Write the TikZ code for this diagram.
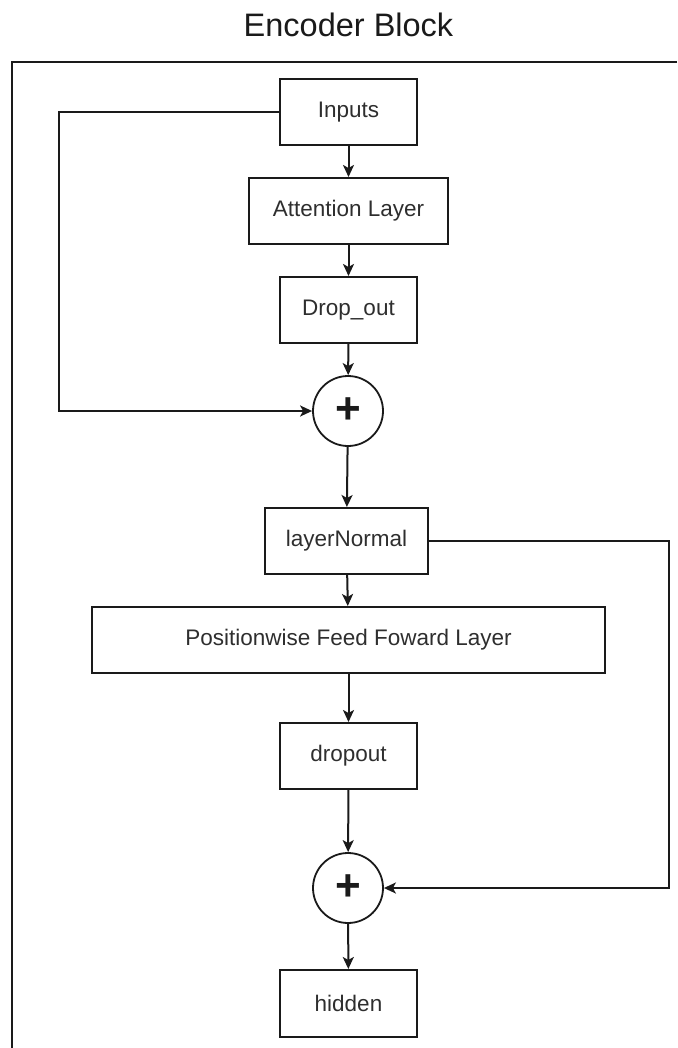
\documentclass[tikz,border=0pt]{standalone}
\usepackage{fontspec}
\setmainfont{Liberation Sans}
\usetikzlibrary{arrows.meta}
\definecolor{ink}{HTML}{1A1A1A}
\definecolor{txt}{HTML}{2E2E2E}
\begin{document}
\begin{tikzpicture}[x=1pt,y=-1pt,
  line width=2pt, draw=ink,
  layer/.style={draw=ink, line width=2pt, rectangle, inner sep=0pt,
    minimum height=66pt, text=txt, font=\fontsize{22.5}{27}\selectfont},
  adder/.style={draw=ink, line width=1.8pt, circle, inner sep=0pt,
    minimum size=70pt, text=ink, font=\fontsize{44}{46}\selectfont\bfseries},
  flow/.style={draw=ink, line width=2pt,
    -{Stealth[length=12pt,width=11pt,inset=3pt]}},
  skip/.style={draw=ink, line width=2pt}]
\useasboundingbox (0,0) rectangle (677,1048);
% outer frame (top and left edges)
\draw[line width=2.2pt, draw=ink] (677,62) -- (12,62) -- (12,1048);
% title
\node[text=ink, font=\fontsize{32.5}{36}\selectfont, anchor=base] (title) at (348.5,37) {Encoder Block};
% blocks
\node[layer, minimum width=137pt] (inputs) at (348.5,112.5) {Inputs};
\node[layer, minimum width=199pt] (attn) at (348.5,211) {Attention Layer};
\node[layer, minimum width=137pt] (drop1) at (348.5,310) {Drop\_out};
\node[adder] (add1) at (348,411) {+};
\node[layer, minimum width=163pt] (norm) at (346.5,541) {layerNormal};
\node[layer, minimum width=513pt] (ffn) at (348.5,640) {Positionwise Feed Foward Layer};
\node[layer, minimum width=137pt] (drop2) at (348.5,756) {dropout};
\node[adder] (add2) at (348,888) {+};
\node[layer, minimum width=137pt, minimum height=67pt] (hidden) at (348.5,1003.5) {hidden};
% corner points of the residual paths
\coordinate (skipA1) at (59,112.5);
\coordinate (skipA2) at (59,411);
\coordinate (skipB1) at (669,541);
\coordinate (skipB2) at (669,888);
% main flow
\draw[flow] (inputs) -- (attn);
\draw[flow] (attn) -- (drop1);
\draw[flow] (drop1) -- (add1);
\draw[flow] (add1) -- (norm);
\draw[flow] (norm) -- (ffn);
\draw[flow] (ffn) -- (drop2);
\draw[flow] (drop2) -- (add2);
\draw[flow] (add2) -- (hidden);
% residual connections
\draw[flow] (inputs.west) -- (skipA1) -- (skipA2) -- (add1.west);
\draw[flow] (norm.east) -- (skipB1) -- (skipB2) -- (add2.east);
\end{tikzpicture}
\end{document}
